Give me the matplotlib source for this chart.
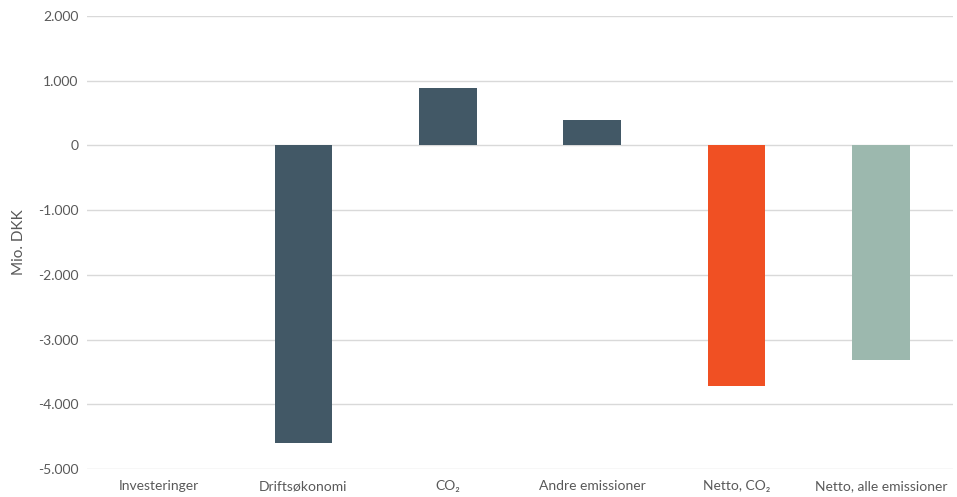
import matplotlib.pyplot as plt
from matplotlib.ticker import FuncFormatter

plt.rcParams['font.family'] = ['Lato', 'DejaVu Sans']

# Data (Mio. DKK)
kategorier = ['Investeringer', 'Driftsøkonomi', 'CO₂', 'Andre emissioner',
              'Netto, CO₂', 'Netto, alle emissioner']
vaerdier = [0, -4600, 890, 390, -3710, -3320]
farver = ['#425866', '#425866', '#425866', '#425866', '#F05023', '#9CB8AE']
y_ticks = [-5000, -4000, -3000, -2000, -1000, 0, 1000, 2000]

fig = plt.figure(figsize=(9.57, 4.97), dpi=100)
ax = fig.add_axes([0.0909, 0.0563, 0.9049, 0.9115])

x = range(len(kategorier))
ax.bar(x, vaerdier, width=0.4, color=farver, zorder=3)

ax.set_xlim(-0.5, len(kategorier) - 0.5)
ax.set_ylim(-5000, 2000)
ax.set_yticks(y_ticks)
# dansk talformat: punktum som tusindtalsseparator
ax.yaxis.set_major_formatter(FuncFormatter(lambda v, p: f'{int(v):,}'.replace(',', '.')))
ax.set_xticks(list(x))
ax.set_xticklabels(kategorier)

ax.grid(axis='y', color='#d9d9d9', linewidth=1, zorder=0)
for s in ax.spines.values():
    s.set_visible(False)
ax.tick_params(axis='both', length=0, labelsize=10, colors='#595959', pad=6)
ax.tick_params(axis='x', pad=8)
ax.set_ylabel('Mio. DKK', fontsize=11, color='#595959', labelpad=9)

fig.savefig('out.png', dpi=100)
